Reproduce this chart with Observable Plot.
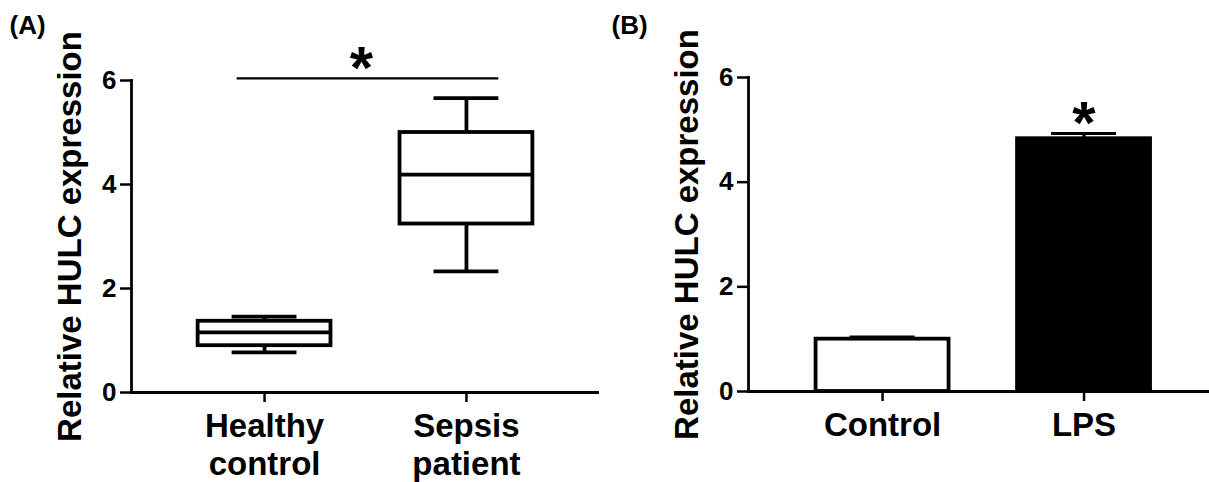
<!DOCTYPE html>
<html>
<head>
<meta charset="utf-8">
<script src="https://cdn.jsdelivr.net/npm/d3@7"></script>
<script src="https://cdn.jsdelivr.net/npm/@observablehq/plot@0.6"></script>
<style>
  html, body { margin: 0; padding: 0; background: white; }
  #wrap { display: flex; width: 1209px; height: 482px; overflow: hidden; }
</style>
</head>
<body>
<div id="wrap"></div>
<script>
// ---- Data ----
const yTitle = "Relative HULC expression";
const yTicks = [0, 2, 4, 6];

// Panel A: box plot summary
const categoriesA = ["Healthy control", "Sepsis patient"];
const tickLabelsA = ["Healthy\ncontrol", "Sepsis\npatient"];
const minA    = [0.77, 2.33];
const q1A     = [0.90, 3.24];
const medianA = [1.155, 4.19];
const q3A     = [1.37, 5.00];
const maxA    = [1.46, 5.66];
const sigA = [{from: "Healthy control", to: "Sepsis patient", y: 6.04, label: "*"}];

// Panel B: bar chart with SEM
const categoriesB = ["Control", "LPS"];
const meanB = [1.00, 4.83];
const semB  = [0.04, 0.10];
const fillB = ["white", "black"];
const starB = ["", "*"];

const font = "'Liberation Sans', Arial, Helvetica, sans-serif";

const dataA = categoriesA.map((g, i) => ({
  group: g, min: minA[i], q1: q1A[i], median: medianA[i], q3: q3A[i], max: maxA[i]
}));
const dataB = categoriesB.map((g, i) => ({
  group: g, mean: meanB[i], sem: semB[i], top: meanB[i] + semB[i], fill: fillB[i], star: starB[i]
}));

const common = {
  height: 482,
  style: {fontFamily: font, fontWeight: "bold", color: "black", background: "white", overflow: "visible"}
};
const sw = 3.8;

// ---- Panel A ----
const plotA = Plot.plot({
  ...common,
  width: 600,
  marginLeft: 131, marginRight: 1, marginTop: 80, marginBottom: 90,
  x: {type: "band", domain: categoriesA, paddingInner: 0.342, paddingOuter: 0.33, align: 0.5, round: false},
  y: {domain: [0, 6]},
  marks: [
    Plot.barY(dataA, {x: "group", y1: "q1", y2: "q3", fill: "white", stroke: "black", strokeWidth: sw}),
    Plot.tickY(dataA, {x: "group", y: "median", stroke: "black", strokeWidth: sw}),
    Plot.ruleX(dataA, {x: "group", y1: "q3", y2: "max", stroke: "black", strokeWidth: sw}),
    Plot.ruleX(dataA, {x: "group", y1: "min", y2: "q1", stroke: "black", strokeWidth: sw}),
    Plot.tickY(dataA, {x: "group", y: "max", insetLeft: 34, insetRight: 34, stroke: "black", strokeWidth: sw}),
    Plot.tickY(dataA, {x: "group", y: "min", insetLeft: 34, insetRight: 34, stroke: "black", strokeWidth: sw}),
    Plot.ruleY(sigA, {x1: "from", x2: "to", y: "y", insetLeft: 39, insetRight: 34, stroke: "black", strokeWidth: 2.2}),
    Plot.text(sigA, {y: "y", text: "label", frameAnchor: "middle", dx: -4, dy: 10, fontSize: 60, lineAnchor: "bottom", fill: "black"}),
    Plot.ruleY([0], {stroke: "black", strokeWidth: 2.8}),
    Plot.frame({anchor: "left", stroke: "black", strokeWidth: 2.8}),
    Plot.axisY({ticks: yTicks, tickFormat: "d", tickSize: 11, tickPadding: 4, fontSize: 26, strokeWidth: 2.5, label: null}),
    Plot.axisX({tickSize: 10, tickPadding: 8, fontSize: 33, lineHeight: 1.15, strokeWidth: 2.5,
      tickFormat: d => tickLabelsA[categoriesA.indexOf(d)], label: null}),
    Plot.text([yTitle], {text: d => d, frameAnchor: "left", textAnchor: "middle", rotate: -90, dx: -51, fontSize: 33, lineAnchor: "bottom", fill: "black"}),
    Plot.text(["(A)"], {text: d => d, frameAnchor: "top-left", dx: -122, dy: -47, fontSize: 26, textAnchor: "start", lineAnchor: "bottom", fill: "black"})
  ]
});

// ---- Panel B ----
const plotB = Plot.plot({
  ...common,
  width: 609,
  marginLeft: 148, marginRight: 0, marginTop: 77, marginBottom: 91,
  x: {type: "band", domain: categoriesB, paddingInner: 0.34, paddingOuter: 0.314, align: 0.534, round: false},
  y: {domain: [0, 6]},
  marks: [
    Plot.ruleX(dataB, {x: "group", y1: "mean", y2: "top", stroke: "black", strokeWidth: 3.2}),
    Plot.tickY(dataB, {x: "group", y: "top", insetLeft: 34, insetRight: 34, stroke: "black", strokeWidth: 3.2}),
    Plot.barY(dataB, {x: "group", y: "mean", fill: "fill", stroke: "black", strokeWidth: sw}),
    Plot.text(dataB, {x: "group", y: "top", text: "star", dy: 10, fontSize: 60, lineAnchor: "bottom", fill: "black"}),
    Plot.ruleY([0], {stroke: "black", strokeWidth: 2.8}),
    Plot.frame({anchor: "left", stroke: "black", strokeWidth: 2.8}),
    Plot.axisY({ticks: yTicks, tickFormat: "d", tickSize: 11, tickPadding: 4, fontSize: 26, strokeWidth: 2.5, label: null}),
    Plot.axisX({tickSize: 10, tickPadding: 8, fontSize: 33, lineHeight: 1.15, strokeWidth: 2.5, label: null}),
    Plot.text([yTitle], {text: d => d, frameAnchor: "left", textAnchor: "middle", rotate: -90, dx: -51, fontSize: 33, lineAnchor: "bottom", fill: "black"}),
    Plot.text(["(B)"], {text: d => d, frameAnchor: "top-left", dx: -137, dy: -44, fontSize: 26, textAnchor: "start", lineAnchor: "bottom", fill: "black"})
  ]
});

const wrap = document.getElementById("wrap");
wrap.appendChild(plotA);
wrap.appendChild(plotB);
</script>
</body>
</html>
